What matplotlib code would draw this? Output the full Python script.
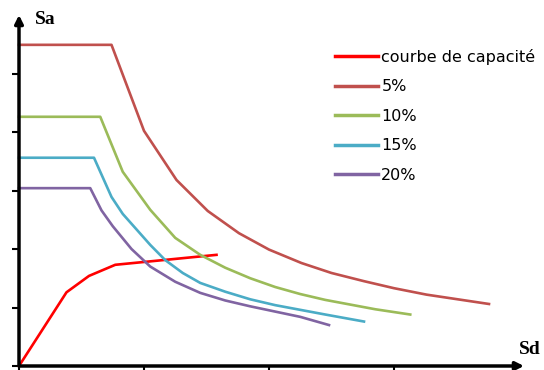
import matplotlib
matplotlib.use('Agg')
import matplotlib.pyplot as plt

# capacity curve (Sd, Sa)
cap_sd = [0.0, 0.38, 0.56, 0.77, 1.58]
cap_sa = [0.0, 1.26, 1.54, 1.73, 1.90]

# demand spectra
sd_5 = [0.0, 0.74, 1.00, 1.26, 1.51, 1.76, 2.00, 2.26, 2.50, 2.76, 3.00, 3.26, 3.51, 3.76]
sa_5 = [5.49, 5.49, 4.02, 3.18, 2.65, 2.27, 1.99, 1.76, 1.59, 1.45, 1.33, 1.22, 1.14, 1.06]

sd_10 = [0.0, 0.65, 0.83, 1.05, 1.25, 1.45, 1.65, 1.85, 2.05, 2.25, 2.45, 2.65, 2.85, 3.13]
sa_10 = [4.26, 4.26, 3.32, 2.67, 2.19, 1.90, 1.68, 1.50, 1.35, 1.23, 1.13, 1.05, 0.97, 0.88]

sd_15 = [0.0, 0.60, 0.74, 0.83, 1.05, 1.17, 1.31, 1.45, 1.65, 1.85, 2.05, 2.25, 2.45, 2.76]
sa_15 = [3.56, 3.56, 2.89, 2.60, 2.07, 1.81, 1.59, 1.42, 1.27, 1.14, 1.04, 0.96, 0.88, 0.76]

sd_20 = [0.0, 0.57, 0.66, 0.75, 0.90, 1.05, 1.25, 1.45, 1.65, 1.85, 2.05, 2.25, 2.48]
sa_20 = [3.04, 3.04, 2.66, 2.39, 2.00, 1.70, 1.44, 1.25, 1.12, 1.02, 0.93, 0.84, 0.70]

labels = ['courbe de capacité', '5%', '10%', '15%', '20%']
colors = ['#FF0000', '#C0504D', '#9BBB59', '#4BACC6', '#8064A2']

fig = plt.figure(figsize=(5.44, 3.70), dpi=100)
W, H = 544.0, 370.0
ax = fig.add_axes([19 / W, (H - 366) / H, 500 / W, 351 / H])

series = [(cap_sd, cap_sa), (sd_5, sa_5), (sd_10, sa_10), (sd_15, sa_15), (sd_20, sa_20)]
for (xs, ys), lab, col in zip(series, labels, colors):
  ax.plot(xs, ys, color=col, lw=1.9, label=lab, clip_on=False)

ax.set_xlim(0, 4)
ax.set_ylim(0, 6)
ax.set_xticks([0, 1, 2, 3])
ax.set_yticks([0, 1, 2, 3, 4, 5])
ax.set_xticklabels([])
ax.set_yticklabels([])
ax.tick_params(direction='out', length=5, width=1.5, color='black')
for s in ['top', 'right', 'left', 'bottom']:
  ax.spines[s].set_visible(False)

# axes with arrow heads
ax.annotate('', xy=(0, 1.0), xytext=(0, 0), xycoords='axes fraction',
            arrowprops=dict(arrowstyle='-|>', lw=2.5, color='black', mutation_scale=12,
                            shrinkA=0, shrinkB=0))
ax.annotate('', xy=(1.01, 0), xytext=(0, 0), xycoords='axes fraction',
            arrowprops=dict(arrowstyle='-|>', lw=2.5, color='black', mutation_scale=12,
                            shrinkA=0, shrinkB=0))

fig.text(35 / W, 1 - 19 / H, 'Sa', family='Liberation Serif', weight='bold',
         fontsize=14, va='center', ha='left')
fig.text(519 / W, 1 - 350 / H, 'Sd', family='Liberation Serif', weight='bold',
         fontsize=14, va='center', ha='left')

leg = ax.legend(loc='upper left', bbox_to_anchor=(335 / W, 1 - 49 / H),
                bbox_transform=fig.transFigure, frameon=False, fontsize=11.5,
                handlelength=2.7, handletextpad=0.2, labelspacing=0.9,
                borderpad=0, borderaxespad=0)
for line in leg.get_lines():
  line.set_linewidth(2.5)

fig.savefig('out.png', dpi=100)
